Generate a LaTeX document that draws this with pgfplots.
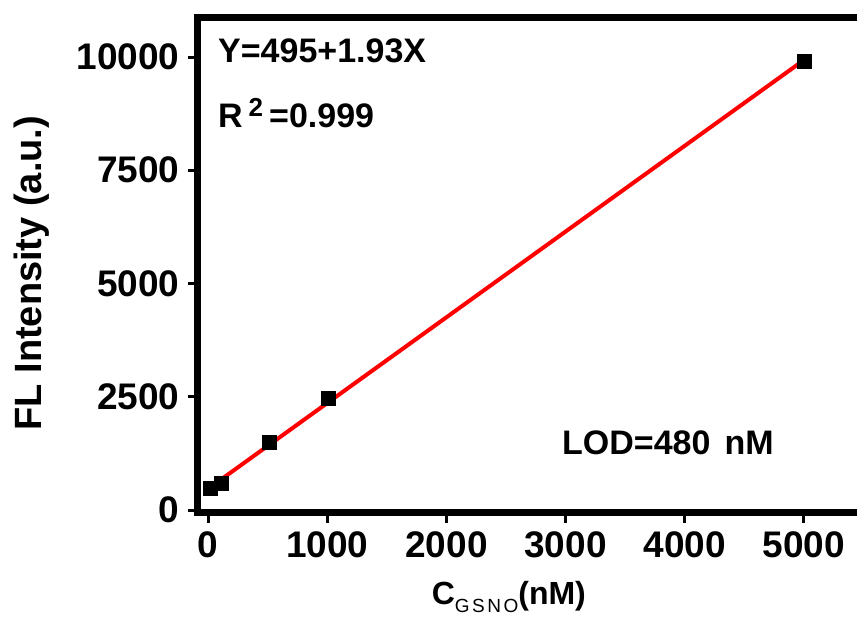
\documentclass[border=0pt]{standalone}
\usepackage{fontspec}
\setmainfont{Liberation Sans}
\usepackage{pgfplots}
\pgfplotsset{compat=1.18}

\begin{document}
\begin{tikzpicture}[x=1pt,y=1pt]
% page = 857 x 619, axis runs past the right edge as in the reference
\path[use as bounding box] (0,0) rectangle (857,619);
\begin{axis}[
  at={(198pt,106.5pt)}, anchor=south west,
  scale only axis, width=677.2pt, height=494.5pt,
  xmin=-86, xmax=5600,
  ymin=-55, ymax=10861,
  xtick={0,1000,2000,3000,4000,5000},
  ytick={0,2500,5000,7500,10000},
  scaled ticks=false,
  /pgf/number format/1000 sep={},
  /pgf/number format/assume math mode=true,
  tick label style={font=\fontsize{37}{40}\selectfont\bfseries},
  xticklabel style={yshift=-6pt},
  yticklabel style={xshift=-5pt},
  tick align=outside,
  xtick pos=bottom, ytick pos=left,
  major tick length=10pt,
  major tick style={line width=3pt, black},
  axis line style={line width=7pt},
  xlabel={C\raisebox{-8pt}{\fontsize{19}{20}\selectfont\mdseries G\hspace{2.5pt}S\hspace{2.5pt}N\hspace{2.5pt}O}(nM)},
  xlabel style={font=\fontsize{32}{36}\selectfont\bfseries,
    at={(axis description cs:0.459,-0.171)}, anchor=center},
  ylabel={FL Intensity (a.u.)},
  ylabel style={font=\fontsize{38}{42}\selectfont\bfseries,
    at={(axis description cs:-0.245,0.484)}, anchor=center},
]
\addplot[only marks, mark=square*, mark size=7pt, black]
  coordinates {(20,486)(110,596)(510,1490)(1010,2472)(5000,9900)};

\addplot[red, line width=4pt]
  coordinates {(20,508)(5000,9930)};

\node[anchor=base west, inner sep=0pt, font=\fontsize{34}{36}\selectfont\bfseries]
  at (axis description cs:0.0295,0.911) {Y=495+1.93X};
\node[anchor=base west, inner sep=0pt, font=\fontsize{34}{36}\selectfont\bfseries]
  at (axis description cs:0.0295,0.7776)
  {R\hspace{6pt}\raisebox{11pt}{\fontsize{26}{26}\selectfont 2}\hspace{6pt}=0.999};
\node[anchor=base west, inner sep=0pt, font=\fontsize{34}{36}\selectfont\bfseries]
  at (axis description cs:0.5375,0.1163) {LOD=480\hspace{14pt}nM};
\end{axis}
\end{tikzpicture}
\end{document}
